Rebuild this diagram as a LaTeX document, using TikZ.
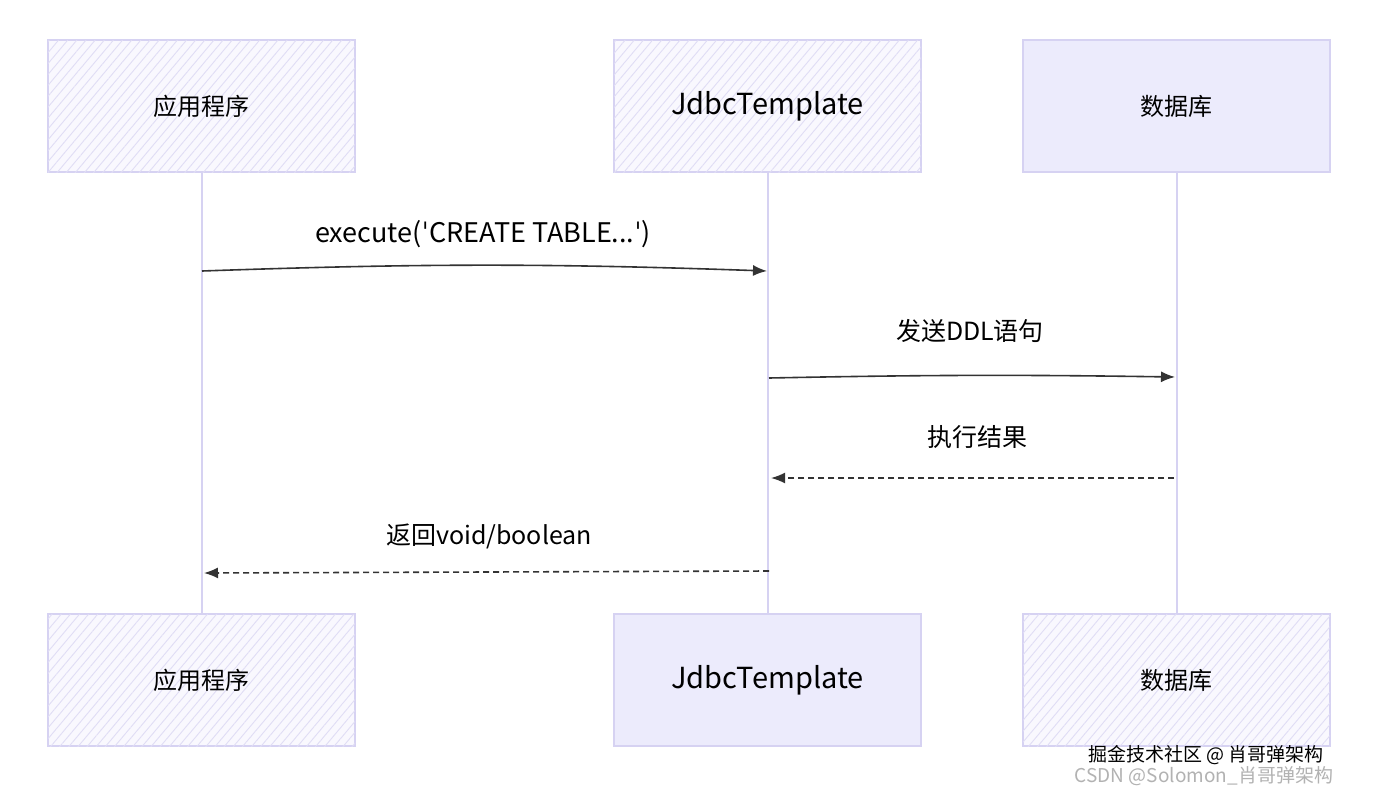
\documentclass[tikz,border=0pt]{standalone}
\usepackage{fontspec}
\setmainfont{Noto Sans CJK SC}
\newfontfamily\lat{DejaVu Sans}
\usetikzlibrary{patterns.meta,arrows.meta}
\definecolor{bd}{HTML}{D6D2F2}
\definecolor{fl}{HTML}{ECEBFC}
\definecolor{hf}{HTML}{F9F8FE}
\definecolor{ln}{HTML}{333333}
\newcommand{\sq}{{\lat ˈ}}
\begin{document}
\begin{tikzpicture}[x=1pt,y=-1pt,
  box/.style={draw=bd,line width=1.2pt,minimum width=307pt,minimum height=132pt,font=\fontsize{24}{28}\selectfont,inner sep=0pt},
  hbox/.style={box,fill=hf,postaction={pattern={Lines[angle=50,distance=7pt,line width=0.9pt]},pattern color=bd!75}},
  sbox/.style={box,fill=fl},
  big/.style={font=\fontsize{29}{34}\selectfont},
  life/.style={draw=bd,line width=2pt},
  msg/.style={draw=ln,line width=1.6pt,-{Latex[length=14pt,width=11pt]}},
  ret/.style={msg,dashed,dash pattern=on 6pt off 4pt},
  lab/.style={font=\fontsize{25}{29}\selectfont,text=black}]
\useasboundingbox (0,0) rectangle (1384,796);
\fill[white] (0,0) rectangle (1384,796);
\node[hbox] (a1) at (201.5,106) {应用程序};
\node[hbox,big] (b1) at (767.5,106) {JdbcTemplate};
\node[sbox] (c1) at (1176.5,106) {数据库};
\node[hbox] (a2) at (201.5,680) {应用程序};
\node[sbox,big] (b2) at (767.5,680) {JdbcTemplate};
\node[hbox] (c2) at (1176.5,680) {数据库};
\draw[life] (a1.south) -- (a2.north);
\draw[life] (b1.south) -- (b2.north);
\draw[life] (c1.south) -- (c2.north);
\coordinate (m1s) at (202,271); \coordinate (m1e) at (767,271);
\coordinate (m2s) at (769,378); \coordinate (m2e) at (1175,377);
\coordinate (m3s) at (1174,478); \coordinate (m3e) at (771,478);
\coordinate (m4s) at (769,571); \coordinate (m4e) at (204,573);
\draw[msg] (m1s) to[bend left=2] (m1e);
\draw[msg] (m2s) to[bend left=1] (m2e);
\draw[ret] (m3s) -- (m3e);
\draw[ret] (m4s) -- (m4e);
\node[lab,font=\fontsize{27}{31}\selectfont] (l1) at (483,234) {execute(\sq CREATE TABLE...\sq)};
\node[lab] (l2) at (970,331) {发送DDL语句};
\node[lab] (l3) at (977,437) {执行结果};
\node[lab] (l4) at (489,536) {返回void/boolean};
\node[font=\fontsize{19}{22}\selectfont,text=black] (w1) at (1206,755) {掘金技术社区 @ 肖哥弹架构};
\node[font=\fontsize{19}{22}\selectfont,text=gray!60] (w2) at (1204,776) {CSDN @Solomon\_肖哥弹架构};
\end{tikzpicture}
\end{document}
